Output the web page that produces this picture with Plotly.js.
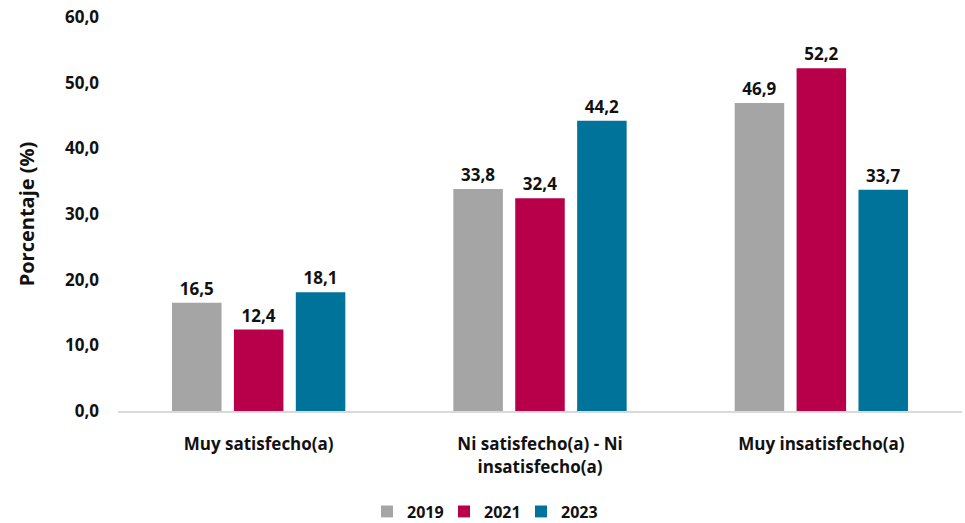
<!DOCTYPE html>
<html>
<head>
<meta charset="utf-8">
<script src="https://cdn.plot.ly/plotly-3.0.1.min.js"></script>
<style>html,body{margin:0;padding:0;background:#fff;}#chart{width:965px;height:523px;}</style>
</head>
<body>
<div id="chart"></div>
<script>
const categories = ["Muy satisfecho(a)", "Ni satisfecho(a) - Ni<br>insatisfecho(a)", "Muy insatisfecho(a)"];
const years = ["2019", "2021", "2023"];
const values2019 = [16.5, 33.8, 46.9];
const values2021 = [12.4, 32.4, 52.2];
const values2023 = [18.1, 44.2, 33.7];
const yTicks = [0, 10, 20, 30, 40, 50, 60];
const yTickLabels = ["0,0", "10,0", "20,0", "30,0", "40,0", "50,0", "60,0"];
const colors = ["#A5A5A5", "#B8004A", "#00739A"];

const series = [values2019, values2021, values2023];
const fmt = v => v.toFixed(1).replace(".", ",");
const font = "Open Sans, Noto Sans, sans-serif";
const bold = size => ({family: font, size: size, color: "#111", weight: 700});

const traces = series.map((vals, i) => ({
  type: "bar",
  name: years[i],
  x: categories,
  y: vals,
  marker: {color: colors[i]},
  text: vals.map(fmt),
  textposition: "outside",
  cliponaxis: false,
  textfont: bold(17),
  hoverinfo: "none"
}));

const layout = {
  width: 965, height: 523,
  margin: {l: 118, r: 3, t: 17, b: 112, autoexpand: false},
  paper_bgcolor: "#fff", plot_bgcolor: "#fff",
  barmode: "group",
  bargap: 0.34,
  bargroupgap: 0.2,
  font: {family: font, color: "#111"},
  xaxis: {
    showline: true, linecolor: "#D9D9D9", linewidth: 2,
    ticks: "", showgrid: false,
    tickfont: bold(17),
    ticklabelstandoff: 17,
    automargin: false,
    fixedrange: true
  },
  yaxis: {
    range: [0, 60],
    tickvals: yTicks, ticktext: yTickLabels,
    showgrid: false, zeroline: false, showline: false,
    ticks: "", ticklen: 0,
    tickfont: bold(17),
    ticklabelstandoff: 18,
    automargin: false,
    title: {text: "Porcentaje (%)", font: bold(20), standoff: 24},
    fixedrange: true
  },
  legend: {
    orientation: "h", xref: "container", x: 0.5, xanchor: "center",
    yref: "container", y: 0.022, yanchor: "middle",
    font: bold(16),
    entrywidth: 32, entrywidthmode: "pixels",
    itemwidth: 30, traceorder: "normal"
  },
  showlegend: true
};

Plotly.newPlot("chart", traces, layout, {displayModeBar: false, staticPlot: true});
</script>
</body>
</html>
